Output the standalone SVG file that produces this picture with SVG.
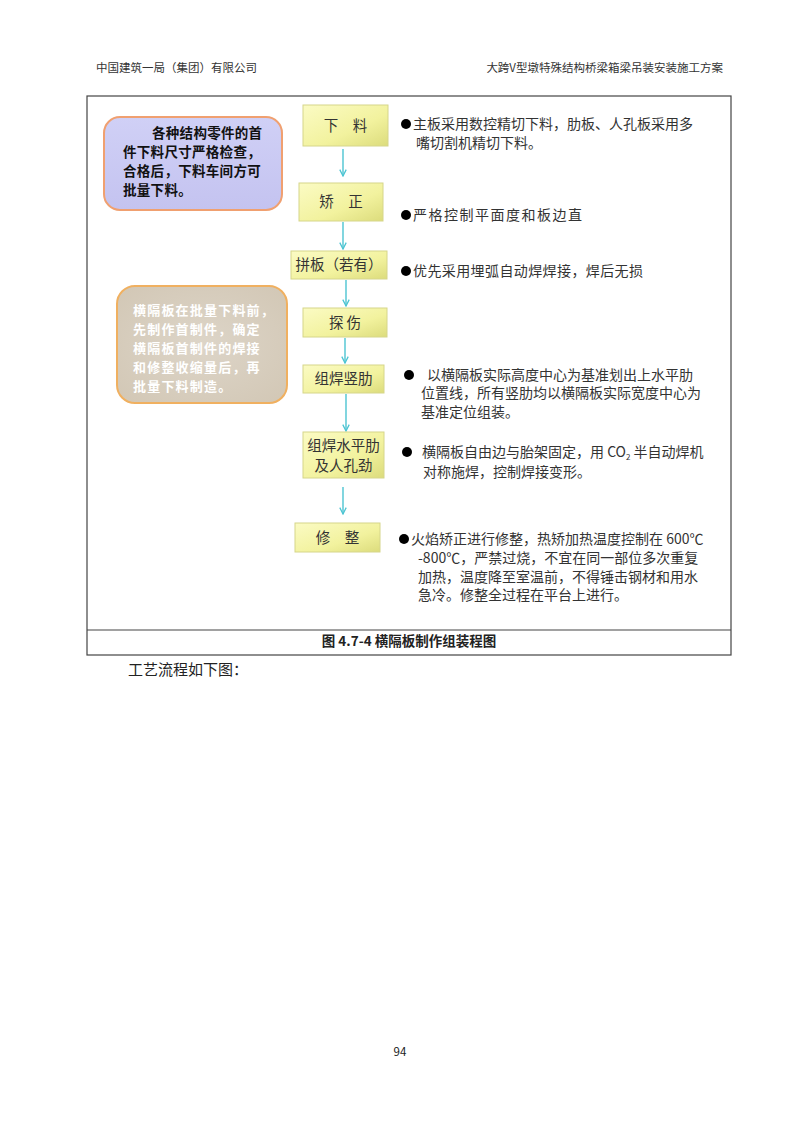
<svg xmlns="http://www.w3.org/2000/svg" width="800" height="1132" viewBox="0 0 800 1132">
<defs>
<style>
.t{font-family:"Noto Sans CJK SC","Noto Sans",sans-serif;fill:#222}
.hd{font-size:11.5px;fill:#333}
.bx{font-size:14.5px;fill:#333;text-anchor:middle}
.rt{font-size:14px;fill:#333}
.cb{font-size:13.5px;font-weight:bold;fill:#111;letter-spacing:0.3px}
.cw{font-size:13px;font-weight:bold;fill:#fff;letter-spacing:1.2px}
.node{fill:url(#yg);stroke:#d6d68a;stroke-width:1}
.arr{stroke:#4cc4d2;stroke-width:1.4;fill:none;marker-end:url(#ah)}
.dot{fill:#000}
</style>
<linearGradient id="yg" x1="0" y1="0" x2="1" y2="1">
<stop offset="0" stop-color="#fbfbc4"/>
<stop offset="0.6" stop-color="#f2f29e"/>
<stop offset="1" stop-color="#dcdc7c"/>
</linearGradient>
<linearGradient id="pg" x1="0" y1="0" x2="0" y2="1">
<stop offset="0" stop-color="#d0d0f6"/>
<stop offset="1" stop-color="#c4c3f0"/>
</linearGradient>
<radialGradient id="bg" cx="0.5" cy="0.5" r="0.7">
<stop offset="0" stop-color="#ddd5c8"/>
<stop offset="1" stop-color="#d2c7b5"/>
</radialGradient>
<marker id="ah" viewBox="0 0 10 10" refX="9" refY="5" markerWidth="8" markerHeight="8" orient="auto" markerUnits="userSpaceOnUse">
<path d="M1,1 L9,5 L1,9" fill="none" stroke="#4cc4d2" stroke-width="1.6"/>
</marker>
</defs>
<rect width="800" height="1132" fill="#fff"/>
<g id="header">
<text class="t hd" x="96" y="72">中国建筑一局（集团）有限公司</text>
<text class="t hd" x="723" y="72" text-anchor="end">大跨V型墩特殊结构桥梁箱梁吊装安装施工方案</text>
</g>
<g id="frame" fill="none" stroke="#444" stroke-width="1.2">
<rect x="87" y="96" width="644" height="559"/>
<line x1="87" y1="630" x2="731" y2="630"/>
</g>
<g id="caption">
<text class="t" x="409" y="646" font-size="13.5" font-weight="bold" text-anchor="middle" fill="#111">图 4.7-4 横隔板制作组装程图</text>
</g>
<g id="connectors">
<line class="arr" x1="343" y1="149" x2="343" y2="176"/>
<line class="arr" x1="343" y1="222" x2="343" y2="249"/>
<line class="arr" x1="346" y1="280" x2="346" y2="306"/>
<line class="arr" x1="345" y1="338" x2="345" y2="363"/>
<line class="arr" x1="346" y1="394" x2="346" y2="431"/>
<line class="arr" x1="343" y1="487" x2="343" y2="514"/>
</g>
<g id="n1">
<rect class="node" x="303" y="105" width="85" height="41"/>
<text class="t bx" x="345.5" y="131">下　料</text>
</g>
<g id="n2">
<rect class="node" x="299" y="183" width="84" height="38"/>
<text class="t bx" x="341" y="207">矫　正</text>
</g>
<g id="n3">
<rect class="node" x="291" y="251" width="96" height="28"/>
<text class="t bx" x="339" y="270">拼板（若有）</text>
</g>
<g id="n4">
<rect class="node" x="303" y="308" width="84" height="29"/>
<text class="t bx" x="345" y="328">探 伤</text>
</g>
<g id="n5">
<rect class="node" x="303" y="365" width="81" height="28"/>
<text class="t bx" x="343.5" y="384">组焊竖肋</text>
</g>
<g id="n6">
<rect class="node" x="303" y="432" width="81" height="46"/>
<text class="t bx" x="343.5" y="451">组焊水平肋</text>
<text class="t bx" x="343.5" y="471">及人孔劲</text>
</g>
<g id="n7">
<rect class="node" x="295" y="523" width="85" height="29"/>
<text class="t bx" x="337.5" y="543">修　整</text>
</g>
<g id="note1">
<rect x="104" y="117" width="178" height="93" rx="16" fill="url(#pg)" stroke="#f0a070" stroke-width="2"/>
<text class="t cb" x="152" y="138">各种结构零件的首</text>
<text class="t cb" x="123" y="157">件下料尺寸严格检查，</text>
<text class="t cb" x="123" y="176">合格后，下料车间方可</text>
<text class="t cb" x="123" y="195">批量下料。</text>
</g>
<g id="note2">
<rect x="117" y="286" width="170" height="117" rx="18" fill="url(#bg)" stroke="#f0b060" stroke-width="2"/>
<text class="t cw" x="133" y="315">横隔板在批量下料前，</text>
<text class="t cw" x="133" y="334">先制作首制件，确定</text>
<text class="t cw" x="133" y="353">横隔板首制件的焊接</text>
<text class="t cw" x="133" y="372">和修整收缩量后，再</text>
<text class="t cw" x="133" y="391">批量下料制造。</text>
</g>
<g id="desc1">
<circle class="dot" cx="406" cy="124" r="5"/>
<text class="t rt" x="413" y="129">主板采用数控精切下料，肋板、人孔板采用多</text>
<text class="t rt" x="416" y="148">嘴切割机精切下料。</text>
</g>
<g id="desc2">
<circle class="dot" cx="406" cy="215" r="5"/>
<text class="t rt" x="413" y="220" letter-spacing="1.5">严格控制平面度和板边直</text>
</g>
<g id="desc3">
<circle class="dot" cx="406" cy="271" r="5"/>
<text class="t rt" x="413" y="276" letter-spacing="0.4">优先采用埋弧自动焊焊接，焊后无损</text>
</g>
<g id="desc4">
<circle class="dot" cx="409" cy="375" r="5"/>
<text class="t rt" x="427" y="380">以横隔板实际高度中心为基准划出上水平肋</text>
<text class="t rt" x="421" y="398">位置线，所有竖肋均以横隔板实际宽度中心为</text>
<text class="t rt" x="421" y="417">基准定位组装。</text>
</g>
<g id="desc5">
<circle class="dot" cx="407" cy="452" r="5"/>
<text class="t rt" x="422" y="457">横隔板自由边与胎架固定，用 CO<tspan font-size="8" dy="3">2</tspan><tspan dy="-3"> 半自动焊机</tspan></text>
<text class="t rt" x="423" y="477">对称施焊，控制焊接变形。</text>
</g>
<g id="desc6">
<circle class="dot" cx="404" cy="539" r="5"/>
<text class="t rt" x="411" y="544">火焰矫正进行修整，热矫加热温度控制在 600℃</text>
<text class="t rt" x="418" y="563">-800℃，严禁过烧，不宜在同一部位多次重复</text>
<text class="t rt" x="418" y="582">加热，温度降至室温前，不得锤击钢材和用水</text>
<text class="t rt" x="418" y="600">急冷。修整全过程在平台上进行。</text>
</g>
<g id="body">
<text class="t" x="128" y="675" font-size="15" fill="#222">工艺流程如下图：</text>
<text class="t" x="400" y="1056" font-size="11.5" fill="#333" text-anchor="middle">94</text>
</g>
</svg>
